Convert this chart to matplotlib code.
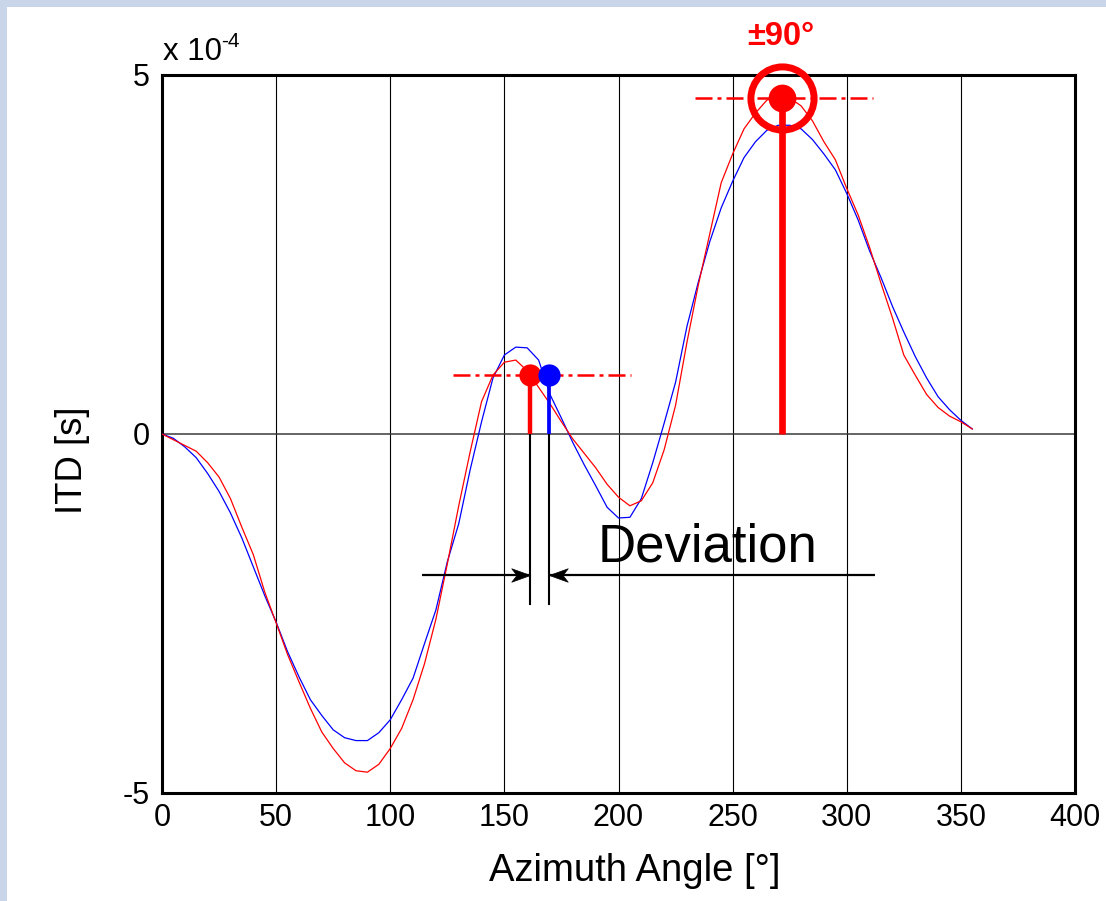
import matplotlib
matplotlib.use("Agg")
import matplotlib.pyplot as plt
from matplotlib.patches import Rectangle
from matplotlib.path import Path

plt.rcParams['font.family'] = ['Liberation Sans', 'DejaVu Sans']

# ---- data (ITD in units of 1e-4 s) ----
angles = [0, 5, 10, 15, 20, 25, 30, 35, 40, 45, 50, 55, 60, 65, 70, 75, 80, 85,
          90, 95, 100, 105, 110, 115, 120, 125, 130, 135, 140, 145, 150, 155, 160, 165,
          170, 175, 180, 185, 190, 195, 200, 205, 210, 215, 220, 225, 230, 235, 240, 245,
          250, 255, 260, 265, 270, 275, 280, 285, 290, 295, 300, 305, 310, 315, 320, 325,
          330, 335, 340, 345, 350, 355]
itd_blue = [0.00, -0.06, -0.18, -0.33, -0.55, -0.80, -1.10, -1.45, -1.85, -2.25,
            -2.62, -3.03, -3.38, -3.70, -3.92, -4.12, -4.23, -4.27,
            -4.27, -4.16, -3.98, -3.70, -3.40, -2.92, -2.45, -1.78, -1.25, -0.50,
            0.17, 0.78, 1.10, 1.21, 1.20, 1.03,
            0.55, 0.22, -0.12, -0.43, -0.72, -1.02, -1.17, -1.16, -0.90, -0.40,
            0.15, 0.72, 1.50, 2.12, 2.68, 3.15,
            3.52, 3.85, 4.07, 4.23, 4.30, 4.30, 4.25, 4.10, 3.90, 3.68, 3.35, 2.98,
            2.55, 2.18, 1.78, 1.42, 1.08, 0.78, 0.52, 0.34, 0.19, 0.07]
itd_red = [0.00, -0.08, -0.16, -0.24, -0.40, -0.60, -0.90, -1.30, -1.68, -2.20,
           -2.63, -3.07, -3.45, -3.82, -4.15, -4.38, -4.58, -4.69,
           -4.71, -4.60, -4.38, -4.10, -3.70, -3.20, -2.58, -1.81, -1.00, -0.25,
           0.45, 0.82, 1.00, 1.03, 0.88, 0.65,
           0.42, 0.17, -0.07, -0.27, -0.47, -0.70, -0.88, -1.00, -0.93, -0.68,
           -0.22, 0.40, 1.28, 2.08, 2.79, 3.50,
           3.90, 4.25, 4.47, 4.65, 4.70, 4.68, 4.57, 4.36, 4.07, 3.82, 3.42, 3.05,
           2.60, 2.10, 1.62, 1.10, 0.82, 0.55, 0.37, 0.25, 0.17, 0.07]

x_ticks = [0, 50, 100, 150, 200, 250, 300, 350, 400]
y_ticks = [-5, 0, 5]

# annotation points
peak_red_small = (161.2, 0.82)
peak_blue_small = (169.4, 0.82)
peak_big = (271.5, 4.675)
small_line_span = (127.5, 205.5)
big_line_span = (233.5, 311.5)
arrow_y = -1.96
arrow_left_start = 113.9
arrow_right_start = 312.4
deviation_bottom = -2.37

fig = plt.figure(figsize=(11.06, 9.01), dpi=100)
W, H = 1106, 901

# decorative border bands (top and left)
fig.patches.append(Rectangle((0, 1 - 7 / H), 1, 7 / H, transform=fig.transFigure,
                             facecolor='#c9d5e9', edgecolor='none', zorder=0))
fig.patches.append(Rectangle((0, 0), 7 / W, 1, transform=fig.transFigure,
                             facecolor='#c9d5e9', edgecolor='none', zorder=0))

ax = fig.add_axes([162 / W, 1 - 793 / H, (1075 - 162) / W, (793 - 75) / H])
ax.set_xlim(0, 400)
ax.set_ylim(-5, 5)
ax.set_xticks(x_ticks)
ax.set_yticks(y_ticks)
ax.set_xticklabels([str(t) for t in x_ticks])
ax.set_yticklabels([str(t) for t in y_ticks])
ax.tick_params(axis='both', length=0, labelsize=22)
ax.tick_params(axis='x', pad=7)
ax.tick_params(axis='y', pad=9)
for s in ax.spines.values():
    s.set_linewidth(2.2)
    s.set_color('black')

# grid
for t in x_ticks[1:-1]:
    ax.axvline(t, color='black', lw=0.8, zorder=1)
ax.axhline(0, color='#3a3a3a', lw=1.1, zorder=1)

# curves
ax.plot(angles, itd_blue, color='#0000ff', lw=0.9, zorder=3)
ax.plot(angles, itd_red, color='#ff0000', lw=0.9, zorder=3)

dd = (0, (6.8, 2.0, 1.6, 2.0))
# small peaks
ax.plot(small_line_span, [peak_red_small[1]] * 2, color='#ff0000', lw=1.8,
        linestyle=dd, zorder=4)
ax.plot([peak_red_small[0]] * 2, [0, peak_red_small[1]], color='#ff0000', lw=3.2,
        zorder=5, solid_capstyle='butt')
ax.plot([peak_blue_small[0]] * 2, [0, peak_blue_small[1]], color='#0000ff', lw=2.7,
        zorder=5, solid_capstyle='butt')
ax.plot([peak_red_small[0]], [peak_red_small[1]], 'o', color='#ff0000', ms=16,
        mec='none', zorder=6)
ax.plot([peak_blue_small[0]], [peak_blue_small[1]], 'o', color='#0000ff', ms=16,
        mec='none', zorder=7)

# big peak
ax.plot(big_line_span, [peak_big[1]] * 2, color='#ff0000', lw=1.8,
        linestyle=dd, zorder=4, clip_on=False)
ax.plot([peak_big[0]] * 2, [0, peak_big[1]], color='#ff0000', lw=4.8,
        zorder=5, solid_capstyle='butt')
ax.plot([peak_big[0]], [peak_big[1]], 'o', color='#ff0000', ms=20, mec='none',
        zorder=6, clip_on=False)
ax.plot([peak_big[0]], [peak_big[1]], 'o', mfc='none', mec='#ff0000', ms=45.5,
        mew=5, zorder=6, clip_on=False)
ax.text(peak_big[0] - 0.5, 5.42, '±90°', color='#ff0000', fontsize=23.5,
        fontweight='bold', ha='center', va='baseline', clip_on=False)

# deviation lines and arrows
ax.plot([peak_red_small[0]] * 2, [0, deviation_bottom], color='black', lw=1.5,
        zorder=4)
ax.plot([peak_blue_small[0]] * 2, [0, deviation_bottom], color='black', lw=1.5,
        zorder=4)
ax.plot([arrow_left_start, peak_red_small[0]], [arrow_y] * 2, color='black',
        lw=1.6, zorder=5, solid_capstyle='butt')
ax.plot([arrow_right_start, peak_blue_small[0]], [arrow_y] * 2, color='black',
        lw=1.6, zorder=5, solid_capstyle='butt')
head_right = Path([(0, 0), (-1, 0.36), (-0.72, 0), (-1, -0.36), (0, 0)],
                  [Path.MOVETO, Path.LINETO, Path.LINETO, Path.LINETO, Path.CLOSEPOLY])
head_left = Path([(0, 0), (1, 0.36), (0.72, 0), (1, -0.36), (0, 0)],
                 [Path.MOVETO, Path.LINETO, Path.LINETO, Path.LINETO, Path.CLOSEPOLY])
ax.plot([peak_red_small[0]], [arrow_y], marker=head_right, ms=27, color='black',
        mec='black', mew=0.5, zorder=6, linestyle='none')
ax.plot([peak_blue_small[0]], [arrow_y], marker=head_left, ms=27, color='black',
        mec='black', mew=0.5, zorder=6, linestyle='none')
ax.text(191.0, -1.78, 'Deviation', fontsize=38, ha='left', va='baseline', zorder=6)

# labels
fig.text(163 / W, 1 - 60 / H, 'x 10', fontsize=22.5, ha='left', va='baseline')
fig.text(221 / W, 1 - 47 / H, '-4', fontsize=15, ha='left', va='baseline')
fig.text(73 / W, 1 - 460 / H, 'ITD [s]', fontsize=26.3, rotation=90,
         ha='center', va='center')
fig.text(635 / W, 1 - 881 / H, 'Azimuth Angle [°]', fontsize=27.5,
         ha='center', va='baseline')

fig.savefig('out.png', dpi=100)
